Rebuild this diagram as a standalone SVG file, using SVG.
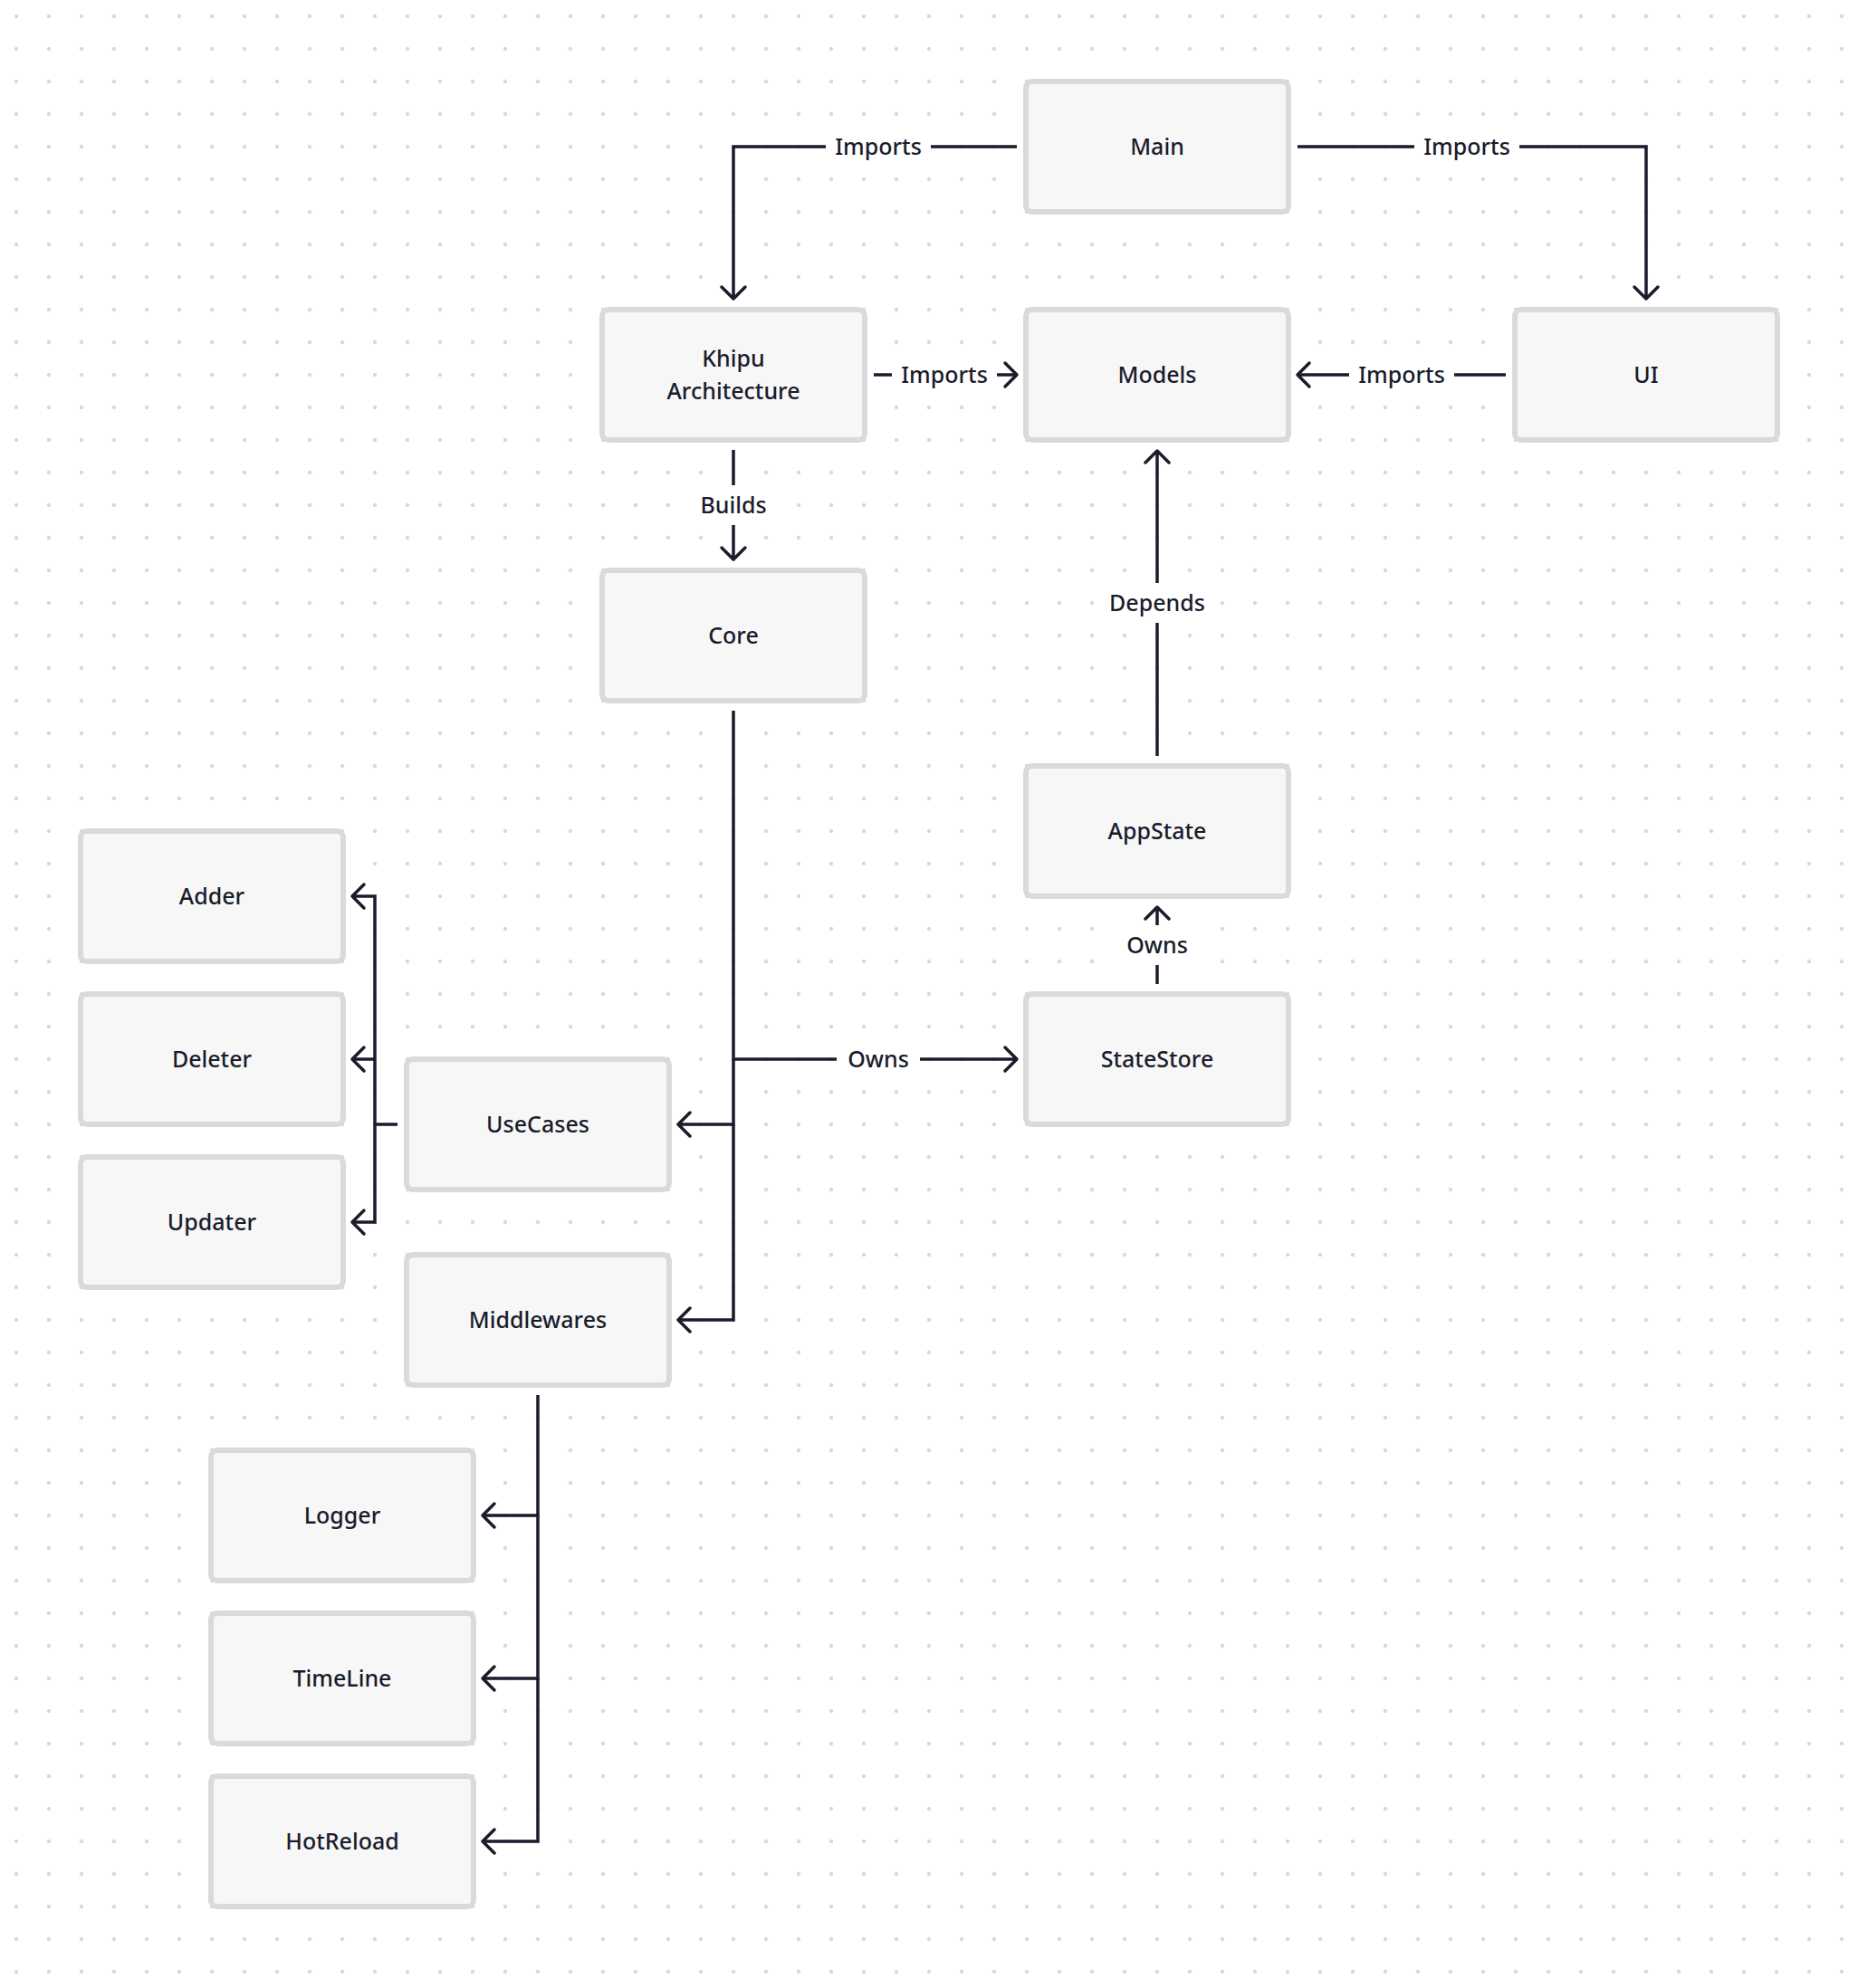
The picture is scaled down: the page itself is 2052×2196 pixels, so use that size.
<svg xmlns="http://www.w3.org/2000/svg" width="2052" height="2196" viewBox="0 0 2052 2196">
<style>
.node rect{fill:#f7f7f7;stroke:#d9d9de;stroke-width:6}
text{font-family:"Noto Sans","Liberation Sans",sans-serif;font-size:25px;font-weight:500;fill:#1a1c2c;text-anchor:middle}
.edge path{fill:none;stroke:#1a1c2c;stroke-width:3.5}
.lbl rect{fill:#ffffff}
</style>
<defs>
<pattern id="dots" x="0" y="0" width="36" height="36" patternUnits="userSpaceOnUse">
<circle cx="18" cy="18" r="2.2" fill="#d9d9dd"/>
</pattern>
<marker id="arr" viewBox="-18 -18 22 36" refX="0" refY="0" markerWidth="22" markerHeight="36" markerUnits="userSpaceOnUse" orient="auto">
<path d="M -13 -13 L 0 0 L -13 13" fill="none" stroke="#1a1c2c" stroke-width="3.5" stroke-linecap="round" stroke-linejoin="round"/>
</marker>
</defs>
<rect width="2052" height="2196" fill="#ffffff"/>
<rect width="2052" height="2196" fill="url(#dots)"/>

<g id="connectors" class="edge">
<path d="M 1123 162 H 810 V 330" marker-end="url(#arr)"/>
<path d="M 1433 162 H 1818 V 330" marker-end="url(#arr)"/>
<path d="M 965 414 H 1123" marker-end="url(#arr)"/>
<path d="M 1663 414 H 1433" marker-end="url(#arr)"/>
<path d="M 810 497 V 618" marker-end="url(#arr)"/>
<path d="M 1278 835 V 498" marker-end="url(#arr)"/>
<path d="M 1278 1087 V 1002" marker-end="url(#arr)"/>
<path d="M 810 785 V 1170 H 1123" marker-end="url(#arr)"/>
<path d="M 810 1170 V 1242 H 749" marker-end="url(#arr)"/>
<path d="M 810 1242 V 1458 H 749" marker-end="url(#arr)"/>
<path d="M 439 1242 H 414"/>
<path d="M 414 1242 V 990 H 389" marker-end="url(#arr)"/>
<path d="M 414 1170 H 389" marker-end="url(#arr)"/>
<path d="M 414 1242 V 1350 H 389" marker-end="url(#arr)"/>
<path d="M 594 1541 V 1674 H 533" marker-end="url(#arr)"/>
<path d="M 594 1674 V 1854 H 533" marker-end="url(#arr)"/>
<path d="M 594 1854 V 2034 H 533" marker-end="url(#arr)"/>
<g class="lbl">
<rect x="912" y="140" width="116" height="44"/><text x="970" y="171">Imports</text>
<rect x="1562" y="140" width="116" height="44"/><text x="1620" y="171">Imports</text>
<rect x="985" y="392" width="116" height="44"/><text x="1043" y="423">Imports</text>
<rect x="1490" y="392" width="116" height="44"/><text x="1548" y="423">Imports</text>
<rect x="762" y="536" width="96" height="44"/><text x="810" y="567">Builds</text>
<rect x="1214" y="644" width="128" height="44"/><text x="1278" y="675">Depends</text>
<rect x="1232" y="1022" width="92" height="44"/><text x="1278" y="1053">Owns</text>
<rect x="924" y="1148" width="92" height="44"/><text x="970" y="1179">Owns</text>
</g>
</g>

<g id="n-main" class="node"><rect x="1133" y="90" width="290" height="144" rx="7"/><text x="1278" y="171">Main</text></g>
<g id="n-khipu" class="node"><rect x="665" y="342" width="290" height="144" rx="7"/><text x="810" y="405">Khipu</text><text x="810" y="441">Architecture</text></g>
<g id="n-models" class="node"><rect x="1133" y="342" width="290" height="144" rx="7"/><text x="1278" y="423">Models</text></g>
<g id="n-ui" class="node"><rect x="1673" y="342" width="290" height="144" rx="7"/><text x="1818" y="423">UI</text></g>
<g id="n-core" class="node"><rect x="665" y="630" width="290" height="144" rx="7"/><text x="810" y="711">Core</text></g>
<g id="n-appstate" class="node"><rect x="1133" y="846" width="290" height="144" rx="7"/><text x="1278" y="927">AppState</text></g>
<g id="n-statestore" class="node"><rect x="1133" y="1098" width="290" height="144" rx="7"/><text x="1278" y="1179">StateStore</text></g>
<g id="n-adder" class="node"><rect x="89" y="918" width="290" height="144" rx="7"/><text x="234" y="999">Adder</text></g>
<g id="n-deleter" class="node"><rect x="89" y="1098" width="290" height="144" rx="7"/><text x="234" y="1179">Deleter</text></g>
<g id="n-updater" class="node"><rect x="89" y="1278" width="290" height="144" rx="7"/><text x="234" y="1359">Updater</text></g>
<g id="n-usecases" class="node"><rect x="449" y="1170" width="290" height="144" rx="7"/><text x="594" y="1251">UseCases</text></g>
<g id="n-middlewares" class="node"><rect x="449" y="1386" width="290" height="144" rx="7"/><text x="594" y="1467">Middlewares</text></g>
<g id="n-logger" class="node"><rect x="233" y="1602" width="290" height="144" rx="7"/><text x="378" y="1683">Logger</text></g>
<g id="n-timeline" class="node"><rect x="233" y="1782" width="290" height="144" rx="7"/><text x="378" y="1863">TimeLine</text></g>
<g id="n-hotreload" class="node"><rect x="233" y="1962" width="290" height="144" rx="7"/><text x="378" y="2043">HotReload</text></g>
</svg>
